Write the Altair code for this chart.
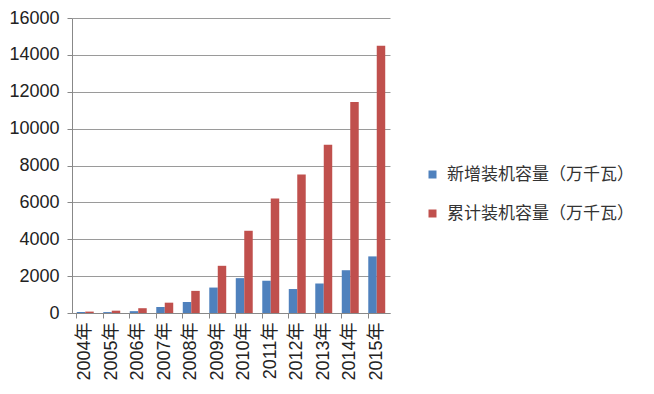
import altair as alt
import pandas as pd

years = ["2004年", "2005年", "2006年", "2007年", "2008年", "2009年",
         "2010年", "2011年", "2012年", "2013年", "2014年", "2015年"]
new_capacity = [50, 50, 100, 330, 600, 1380, 1890, 1750, 1300, 1600, 2320, 3070]
cum_capacity = [76, 126, 260, 560, 1200, 2560, 4460, 6210, 7510, 9130, 11450, 14500]
series = ["新增装机容量（万千瓦）", "累计装机容量（万千瓦）"]
colors = ["#4F81BD", "#C0504D"]

rows = []
for i, y in enumerate(years):
    rows.append({"year": y, "series": series[0], "value": new_capacity[i]})
    rows.append({"year": y, "series": series[1], "value": cum_capacity[i]})
df = pd.DataFrame(rows)

font = "Liberation Sans, Noto Sans CJK SC"

chart = alt.Chart(df).mark_bar().encode(
    x=alt.X("year:N", sort=years, title=None,
            scale=alt.Scale(paddingInner=0.36, paddingOuter=0.18),
            axis=alt.Axis(labelAngle=-90, labelFontSize=18, labelFont=font,
                          labelColor="#222", bandPosition=0,
                          domainColor="#888", tickColor="#888", tickSize=5,
                          labelPadding=4, grid=False)),
    xOffset=alt.XOffset("series:N", sort=series),
    y=alt.Y("value:Q", title=None,
            scale=alt.Scale(domain=[0, 16000], nice=False),
            axis=alt.Axis(values=list(range(0, 16001, 2000)), format="d",
                          labelFontSize=18, labelFont=font, labelColor="#222",
                          domainColor="#888", tickColor="#888", tickSize=5,
                          gridColor="#9a9a9a", labelPadding=8)),
    color=alt.Color("series:N", sort=series,
                    scale=alt.Scale(domain=series, range=colors),
                    legend=alt.Legend(title=None, orient="none", legendX=352,
                                      legendY=148, symbolType="square",
                                      symbolSize=64, symbolStrokeWidth=0,
                                      labelFontSize=17, labelFont="Noto Sans CJK SC",
                                      labelColor="#333", rowPadding=21,
                                      labelOffset=6, labelLimit=300)),
).properties(width=318, height=295, padding={"left": 0, "top": 1, "right": 5, "bottom": 5}
).configure_view(stroke=None)

chart.save("out.html", embed_options={"renderer": "svg", "actions": False})
